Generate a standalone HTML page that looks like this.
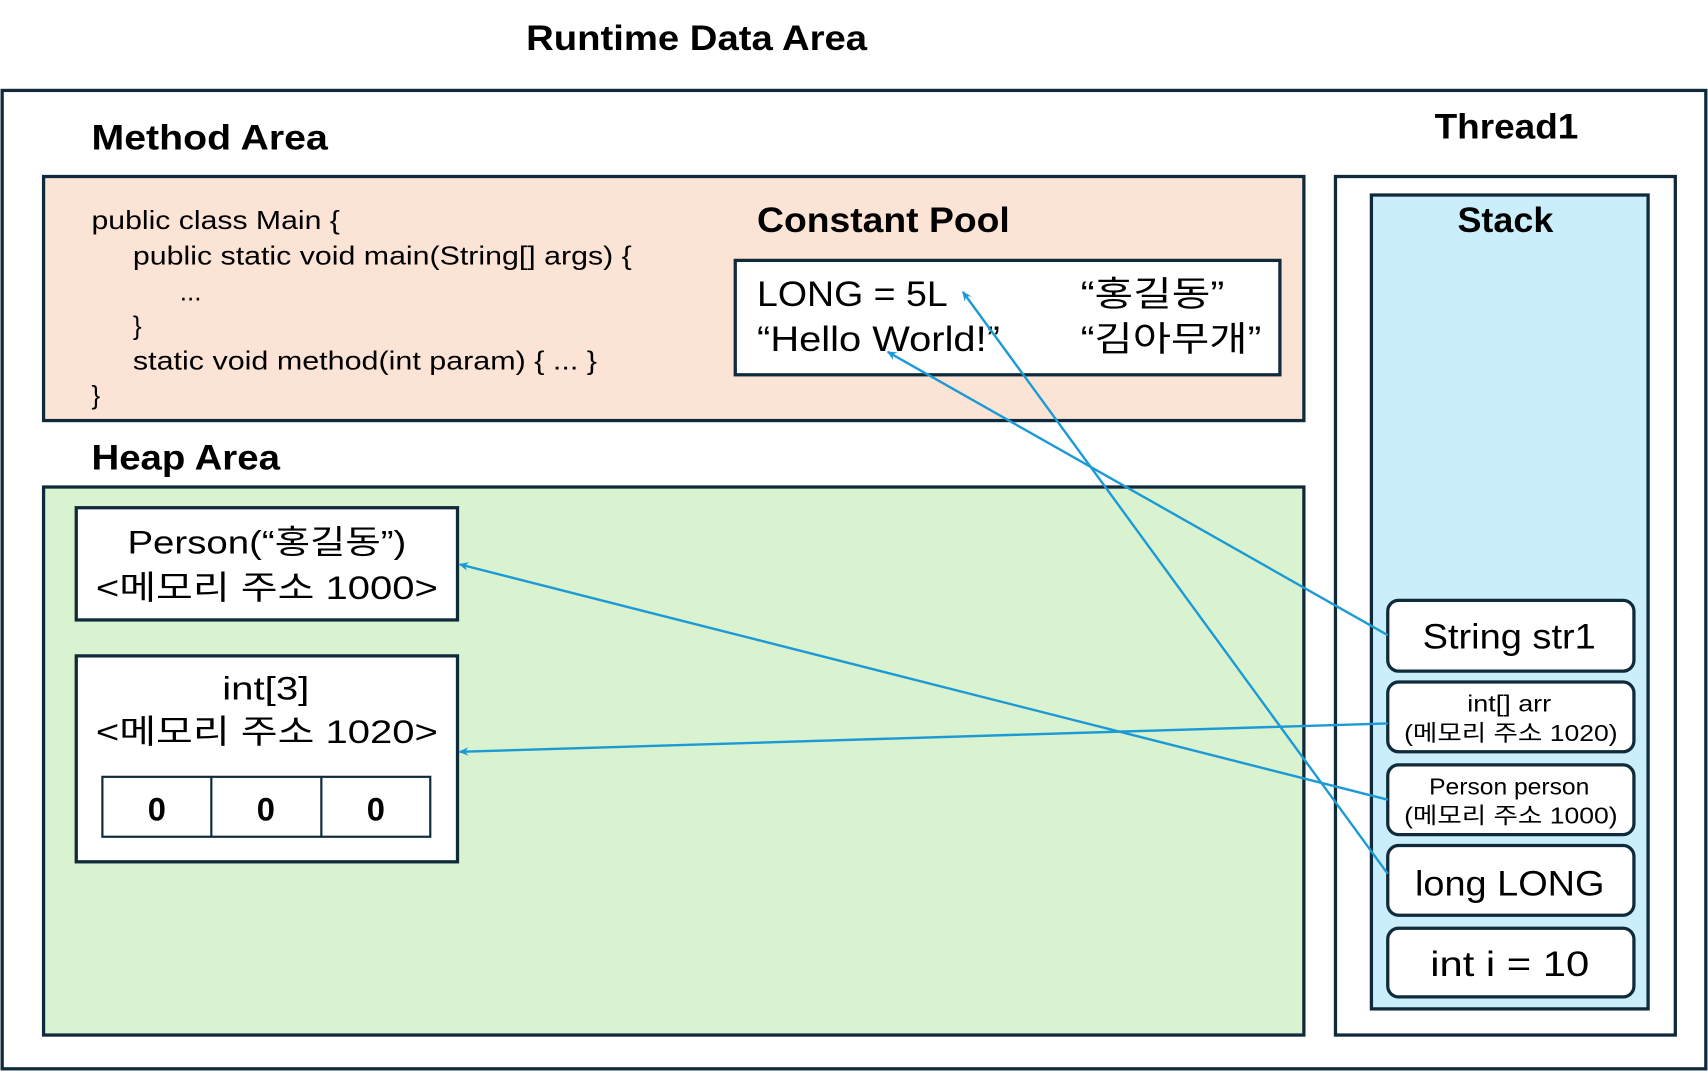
<!DOCTYPE html>
<html><head><meta charset="utf-8"><style>
html,body{margin:0;padding:0;background:#fff}
svg{display:block}
text{font-family:"Liberation Sans","Noto Sans CJK KR",sans-serif;fill:#000}
.b{font-weight:bold}
</style></head><body>
<svg width="1708" height="1071" viewBox="0 0 1568 983" preserveAspectRatio="none" xmlns="http://www.w3.org/2000/svg">
<defs><marker id="a" markerWidth="10" markerHeight="10" refX="8" refY="5" orient="auto" markerUnits="userSpaceOnUse"><path d="M0,1 L9,5 L0,9 L3,5 Z" fill="#1b9ad6"/></marker></defs>
<g stroke="#0f2a3a" stroke-width="3">
<rect x="2" y="83" width="1564" height="898" fill="#fff"/>
<rect x="40" y="162" width="1157" height="224" fill="#fbe3d6"/>
<rect x="675" y="239" width="500" height="105" fill="#fff"/>
<rect x="40" y="447" width="1157" height="503" fill="#d9f2d0"/>
<rect x="70" y="466" width="350" height="103" fill="#fff"/>
<rect x="70" y="602" width="350" height="189" fill="#fff"/>
<rect x="94" y="713" width="301" height="55" fill="#fff" stroke-width="2"/>
<line x1="194" y1="713" x2="194" y2="768" stroke-width="2"/>
<line x1="295" y1="713" x2="295" y2="768" stroke-width="2"/>
<rect x="1226" y="162" width="312" height="788" fill="#fff"/>
<rect x="1259" y="179" width="254" height="747" fill="#caeefb"/>
<rect x="1274" y="551" width="226" height="65" rx="10" fill="#fff"/>
<rect x="1274" y="626" width="226" height="64" rx="10" fill="#fff"/>
<rect x="1274" y="702" width="226" height="64" rx="10" fill="#fff"/>
<rect x="1274" y="776" width="226" height="64" rx="10" fill="#fff"/>
<rect x="1274" y="852" width="226" height="63" rx="10" fill="#fff"/>
</g>
<g lengthAdjust="spacingAndGlyphs">
<text x="483" y="46" class="b" font-size="32" textLength="313" lengthAdjust="spacingAndGlyphs">Runtime Data Area</text>
<text x="84" y="137" class="b" font-size="32" textLength="217" lengthAdjust="spacingAndGlyphs">Method Area</text>
<text x="84" y="431" class="b" font-size="32" textLength="173" lengthAdjust="spacingAndGlyphs">Heap Area</text>
<text x="1317" y="127" class="b" font-size="32" textLength="132" lengthAdjust="spacingAndGlyphs">Thread1</text>
<text x="1338" y="213" class="b" font-size="32" textLength="88" lengthAdjust="spacingAndGlyphs">Stack</text>
<text x="695" y="213" class="b" font-size="32" textLength="232" lengthAdjust="spacingAndGlyphs">Constant Pool</text>
<g font-size="24">
<text x="84" y="210" textLength="228" lengthAdjust="spacingAndGlyphs">public class Main {</text>
<text x="122" y="243" textLength="458" lengthAdjust="spacingAndGlyphs">public static void main(String[] args) {</text>
<text x="165" y="276">...</text>
<text x="122" y="307">}</text>
<text x="122" y="339" textLength="426" lengthAdjust="spacingAndGlyphs">static void method(int param) { ... }</text>
<text x="84" y="371">}</text>
</g>
<g font-size="32">
<text x="695" y="281" textLength="175" lengthAdjust="spacingAndGlyphs">LONG = 5L</text>
<text x="695" y="322" textLength="223" lengthAdjust="spacingAndGlyphs">“Hello World!”</text>
<text x="992" y="281" textLength="132" lengthAdjust="spacingAndGlyphs">“홍길동”</text>
<text x="992" y="322" textLength="166" lengthAdjust="spacingAndGlyphs">“김아무개”</text>
</g>
<g font-size="30">
<text x="117" y="508" textLength="256" lengthAdjust="spacingAndGlyphs">Person(“홍길동”)</text>
<text x="88" y="550" textLength="314" lengthAdjust="spacingAndGlyphs">&lt;메모리 주소 1000&gt;</text>
<text x="204" y="642" textLength="80" lengthAdjust="spacingAndGlyphs">int[3]</text>
<text x="88" y="682" textLength="314" lengthAdjust="spacingAndGlyphs">&lt;메모리 주소 1020&gt;</text>
<text x="144" y="753" class="b" text-anchor="middle">0</text>
<text x="244" y="753" class="b" text-anchor="middle">0</text>
<text x="345" y="753" class="b" text-anchor="middle">0</text>
<text x="1306" y="595" font-size="32" textLength="159" lengthAdjust="spacingAndGlyphs">String str1</text>
<text x="1299" y="822" font-size="32" textLength="174" lengthAdjust="spacingAndGlyphs">long LONG</text>
<text x="1313" y="896" font-size="32" textLength="146" lengthAdjust="spacingAndGlyphs">int i = 10</text>
</g>
<g font-size="21">
<text x="1347" y="653" textLength="77" lengthAdjust="spacingAndGlyphs">int[] arr</text>
<text x="1289" y="680" textLength="196" lengthAdjust="spacingAndGlyphs">(메모리 주소 1020)</text>
<text x="1312" y="729" textLength="147" lengthAdjust="spacingAndGlyphs">Person person</text>
<text x="1289" y="756" textLength="196" lengthAdjust="spacingAndGlyphs">(메모리 주소 1000)</text>
</g>
</g>
<g stroke="#1b9ad6" stroke-width="2.2" fill="none" marker-end="url(#a)">
<line x1="1274" y1="583" x2="815" y2="323"/>
<line x1="1274" y1="664" x2="422" y2="690"/>
<line x1="1274" y1="734" x2="422" y2="518"/>
<line x1="1274" y1="802" x2="884" y2="268"/>
</g>
</svg>
</body></html>
